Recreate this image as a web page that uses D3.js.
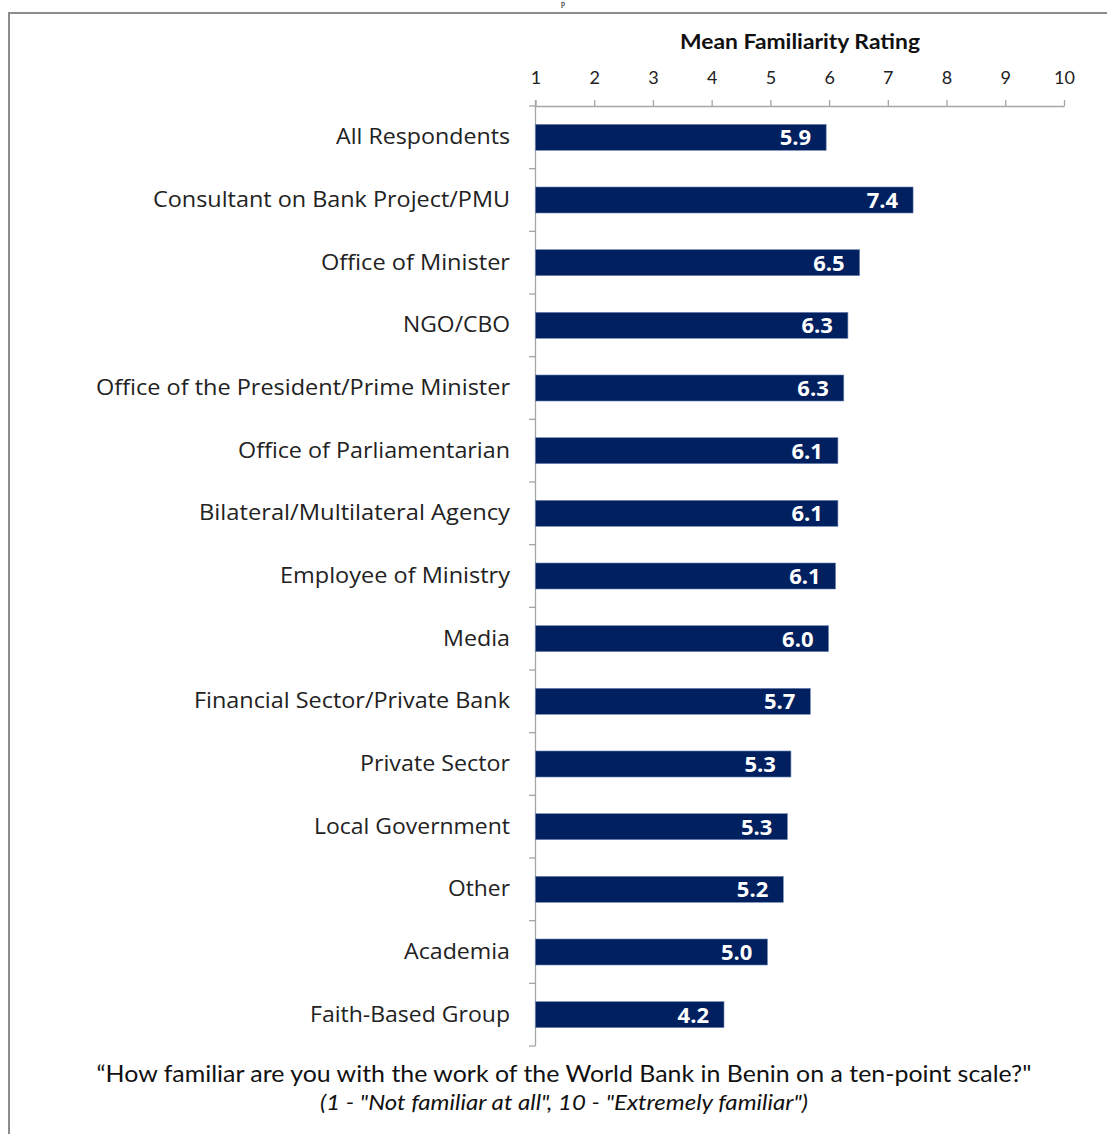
<!DOCTYPE html>
<html>
<head>
<meta charset="utf-8">
<script src="https://cdn.jsdelivr.net/npm/d3@7/dist/d3.min.js"></script>
<style>
  html, body { margin: 0; padding: 0; background: #fff; }
  svg { display: block; }
</style>
</head>
<body>
<script>
const categories = [
  "All Respondents",
  "Consultant on Bank Project/PMU",
  "Office of Minister",
  "NGO/CBO",
  "Office of the President/Prime Minister",
  "Office of Parliamentarian",
  "Bilateral/Multilateral Agency",
  "Employee of Ministry",
  "Media",
  "Financial Sector/Private Bank",
  "Private Sector",
  "Local Government",
  "Other",
  "Academia",
  "Faith-Based Group"
];
const values = [5.95, 7.43, 6.52, 6.32, 6.25, 6.15, 6.15, 6.11, 5.99, 5.68, 5.35, 5.29, 5.22, 4.95, 4.21];
const valueLabels = ["5.9", "7.4", "6.5", "6.3", "6.3", "6.1", "6.1", "6.1", "6.0", "5.7", "5.3", "5.3", "5.2", "5.0", "4.2"];
const tickValues = [1, 2, 3, 4, 5, 6, 7, 8, 9, 10];
const axisTitle = "Mean Familiarity Rating";
const footer1 = "\u201CHow familiar are you with the work of the World Bank in Benin on a ten-point scale?\"";
const footer2 = "(1 - \"Not familiar at all\", 10 - \"Extremely familiar\")";

const W = 1107, H = 1134;
const svg = d3.select("body").append("svg").attr("width", W).attr("height", H);

// remnant of the caption above the frame
svg.append("text").attr("x", 563).attr("y", 6).attr("text-anchor", "middle")
  .style("font-family", "Liberation Serif, serif").style("font-size", "8px").text("p");

// frame
svg.append("rect").attr("x", 9).attr("y", 13).attr("width", W + 20).attr("height", H + 20)
  .attr("fill", "none").attr("stroke", "#8c8c8c").attr("stroke-width", 2);

const x = d3.scaleLinear().domain([1, 10]).range([535.5, 1064]);
const y = d3.scaleBand().domain(categories).range([106, 1046]).paddingInner(0.585).paddingOuter(0.2925);

const gridColor = "#a6a6a6";

// top axis
const xAxis = d3.axisTop(x).tickValues(tickValues).tickSize(6).tickSizeOuter(0).tickPadding(16);
const gx = svg.append("g").attr("transform", "translate(0,106)").call(xAxis);
gx.select(".domain").attr("stroke", gridColor).attr("stroke-width", 1.3);
gx.selectAll(".tick line").attr("stroke", gridColor).attr("stroke-width", 1.3);
gx.selectAll(".tick text").attr("fill", "#222").style("font-family", "Lato, sans-serif").style("font-size", "18px");

// left axis (category ticks at band boundaries)
const bounds = d3.range(categories.length + 1).map(i => 106 + i * (940 / categories.length));
svg.append("line").attr("x1", 535.5).attr("x2", 535.5).attr("y1", 100).attr("y2", 1046)
  .attr("stroke", gridColor).attr("stroke-width", 1.3);
svg.selectAll(".ctick").data(bounds).join("line").attr("class", "ctick")
  .attr("x1", 529).attr("x2", 535.5).attr("y1", d => d).attr("y2", d => d)
  .attr("stroke", gridColor).attr("stroke-width", 1.3);

// bars
svg.selectAll(".bar").data(values).join("rect").attr("class", "bar")
  .attr("x", x(1))
  .attr("y", (d, i) => y(categories[i]))
  .attr("width", d => x(d) - x(1))
  .attr("height", y.bandwidth())
  .attr("fill", "#002060")
  .attr("stroke", "#6f86b0").attr("stroke-width", 0.6);

// value labels
svg.selectAll(".vl").data(values).join("text").attr("class", "vl")
  .attr("x", d => x(d) - 15)
  .attr("y", (d, i) => y(categories[i]) + y.bandwidth() / 2 + 8)
  .attr("text-anchor", "end")
  .attr("fill", "#fff")
  .style("font-family", "Open Sans, sans-serif").style("font-weight", "bold").style("font-size", "22px")
  .text((d, i) => valueLabels[i]);

// category labels
svg.selectAll(".cl").data(categories).join("text").attr("class", "cl")
  .attr("x", 510)
  .attr("y", d => y(d) + y.bandwidth() / 2 + 7)
  .attr("text-anchor", "end")
  .attr("fill", "#222")
  .style("font-family", "Open Sans, sans-serif").style("font-size", "21px")
  .text(d => d);

// axis title
svg.append("text").attr("x", 800).attr("y", 49).attr("text-anchor", "middle")
  .attr("fill", "#111")
  .style("font-family", "Lato, sans-serif").style("font-weight", "bold").style("font-size", "20px")
  .attr("textLength", 240).attr("lengthAdjust", "spacingAndGlyphs")
  .text(axisTitle);

// footer
svg.append("text").attr("x", 564).attr("y", 1082).attr("text-anchor", "middle")
  .attr("fill", "#111")
  .style("font-family", "Lato, sans-serif").style("font-size", "24px")
  .attr("textLength", 935).attr("lengthAdjust", "spacingAndGlyphs")
  .text(footer1);
svg.append("text").attr("x", 564).attr("y", 1110).attr("text-anchor", "middle")
  .attr("fill", "#111")
  .style("font-family", "Lato, sans-serif").style("font-style", "italic").style("font-size", "21px")
  .attr("textLength", 488).attr("lengthAdjust", "spacingAndGlyphs")
  .text(footer2);

// fit category label widths to reference widths
const labelWidths = [174, 357, 189, 107, 414, 272, 311, 230, 67, 316, 150, 196, 62, 106, 200];
svg.selectAll(".cl").each(function(d, i) {
  const w = this.getComputedTextLength();
  if (Math.abs(w - labelWidths[i]) / labelWidths[i] > 0.04) {
    d3.select(this).attr("textLength", labelWidths[i]).attr("lengthAdjust", "spacingAndGlyphs");
  }
});
</script>
</body>
</html>
